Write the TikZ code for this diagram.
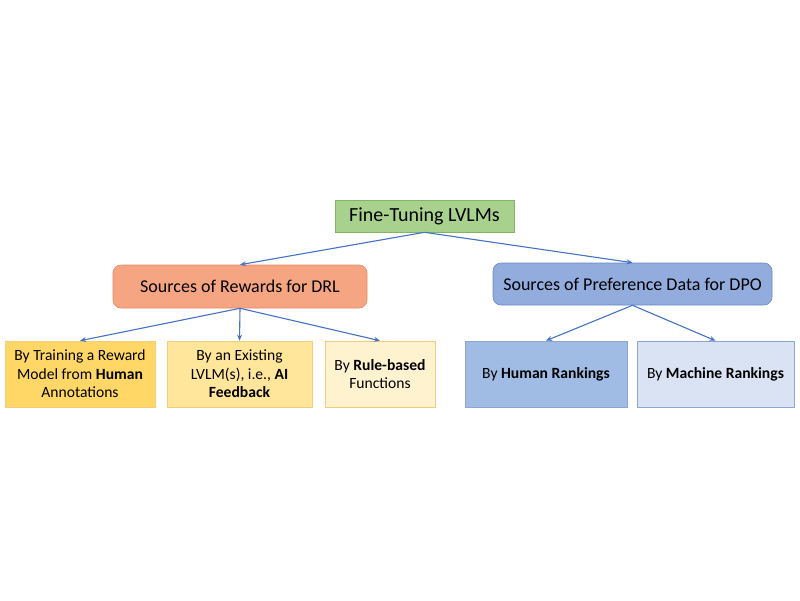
\documentclass[tikz,border=0pt]{standalone}
\usepackage{fontspec}
\setmainfont{Carlito}
\usetikzlibrary{arrows.meta}
\definecolor{linkblue}{RGB}{68,114,196}
\definecolor{topgreen}{RGB}{169,209,142}
\definecolor{topgreenline}{RGB}{130,180,100}
\definecolor{drlfill}{RGB}{246,165,130}
\definecolor{drlline}{RGB}{232,135,100}
\definecolor{dpofill}{RGB}{146,172,222}
\definecolor{dpoline}{RGB}{105,135,195}
\definecolor{goldA}{RGB}{255,215,102}
\definecolor{goldB}{RGB}{255,230,155}
\definecolor{goldC}{RGB}{255,242,206}
\definecolor{goldline}{RGB}{244,205,120}
\definecolor{blueA}{RGB}{160,188,228}
\definecolor{blueB}{RGB}{218,227,243}
\definecolor{blueline}{RGB}{140,165,210}
\tikzset{
  box/.style={draw, line width=0.6pt, inner sep=2pt, align=center,
    font=\fontsize{15.6}{18.5}\selectfont},
  link/.style={draw=linkblue, line width=1.1pt, -{Stealth[length=6pt,width=5pt]}}
}
\begin{document}
\begin{tikzpicture}[x=1pt,y=-1pt]
\useasboundingbox (0,0) rectangle (800,600);
% root
\node[box, fill=topgreen, draw=topgreenline, minimum width=179pt, minimum height=32pt,
  font=\fontsize{20}{24}\selectfont] (root) at (424.5,216) {Fine-Tuning LVLMs};
% second level
\node[box, rounded corners=8pt, fill=drlfill, draw=drlline, minimum width=254pt,
  minimum height=43pt, font=\fontsize{18}{21}\selectfont] (drl) at (240,286.5)
  {Sources of Rewards for DRL};
\node[box, rounded corners=8pt, fill=dpofill, draw=dpoline, minimum width=279pt,
  minimum height=42pt, font=\fontsize{18}{21}\selectfont] (dpo) at (632.5,284)
  {Sources of Preference Data for DPO};
% leaves
\node[box, fill=goldA, draw=goldline, minimum width=150pt, minimum height=66pt] (human) at (80,374)
  {By Training a Reward\\Model from \textbf{Human}\\Annotations};
\node[box, fill=goldB, draw=goldline, minimum width=145pt, minimum height=66pt] (aifb) at (239.5,374)
  {By an Existing\\LVLM(s), i.e., \textbf{AI}\\\textbf{Feedback}};
\node[box, fill=goldC, draw=goldline, minimum width=110pt, minimum height=66pt] (rule) at (380,374)
  {By \textbf{Rule-based}\\Functions};
\node[box, fill=blueA, draw=blueline, minimum width=162pt, minimum height=66pt] (hrank) at (546,374)
  {By \textbf{Human Rankings}};
\node[box, fill=blueB, draw=blueline, minimum width=157pt, minimum height=66pt] (mrank) at (715.5,374)
  {By \textbf{Machine Rankings}};
% arrows
\draw[link] (root.south) -- (drl.north);
\draw[link] (root.south) -- (dpo.north);
\foreach \leaf in {human,aifb,rule}
  \draw[link] (drl.south) -- (\leaf.north);
\foreach \leaf in {hrank,mrank}
  \draw[link] (dpo.south) -- (\leaf.north);
\end{tikzpicture}
\end{document}
